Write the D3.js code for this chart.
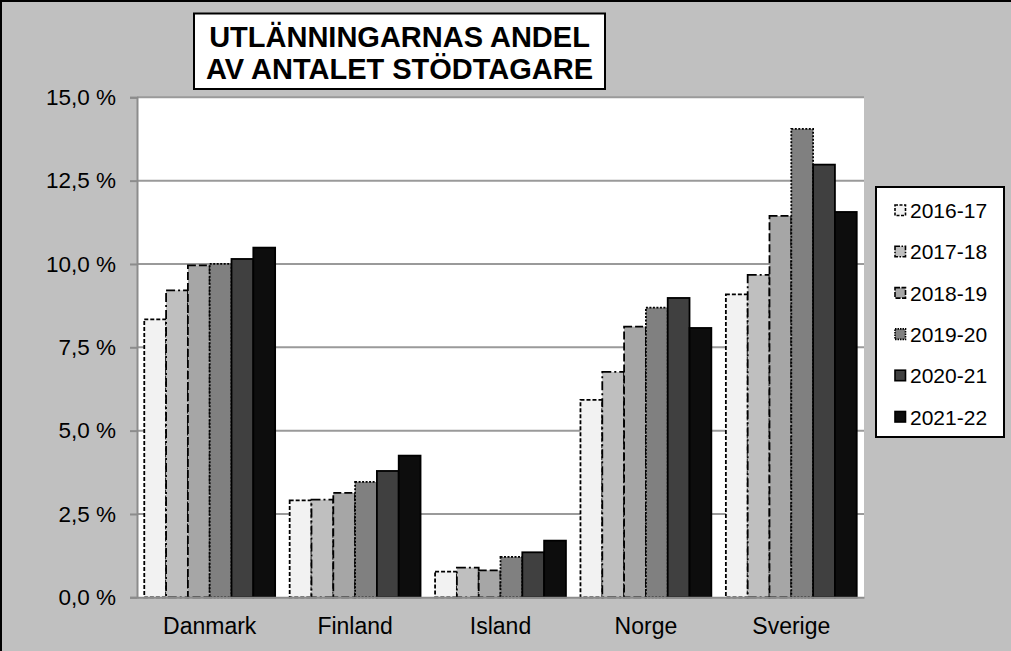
<!DOCTYPE html>
<html>
<head>
<meta charset="utf-8">
<script src="https://cdn.jsdelivr.net/npm/d3@7"></script>
<style>
  html, body { margin: 0; padding: 0; background: #c0c0c0; }
  svg { display: block; font-family: Arial, "Liberation Sans", sans-serif; }
</style>
</head>
<body>
<svg id="chart" width="1011" height="651"></svg>
<script>
const categories = ["Danmark", "Finland", "Island", "Norge", "Sverige"];
const seriesNames = ["2016-17", "2017-18", "2018-19", "2019-20", "2020-21", "2021-22"];
const v2016 = [8.34, 2.91, 0.77, 5.92, 9.09];
const v2017 = [9.21, 2.93, 0.89, 6.76, 9.67];
const v2018 = [9.96, 3.13, 0.81, 8.12, 11.44];
const v2019 = [10.00, 3.46, 1.21, 8.69, 14.05];
const v2020 = [10.15, 3.79, 1.35, 8.98, 12.98];
const v2021 = [10.49, 4.25, 1.70, 8.08, 11.56];
const yTicks = [0, 2.5, 5, 7.5, 10, 12.5, 15];
const titleLines = ["UTLÄNNINGARNAS ANDEL", "AV ANTALET STÖDTAGARE"];

const seriesValues = [v2016, v2017, v2018, v2019, v2020, v2021];
const fills = ["#f2f2f2", "#bfbfbf", "#a6a6a6", "#808080", "#404040", "#0d0d0d"];
const dashes = ["4,2", "9,3,2,3", "8,3", "2,1.5", null, null];

const svg = d3.select("#chart");
const W = 1011, H = 651;
const plot = { left: 137, right: 864, top: 97.3, bottom: 597.3 };

// background + partial frame (top, left)
svg.append("rect").attr("width", W).attr("height", H).attr("fill", "#c0c0c0");
svg.append("line").attr("x1", 0).attr("x2", W).attr("y1", 1).attr("y2", 1).attr("stroke", "#000").attr("stroke-width", 2);
svg.append("line").attr("x1", 1).attr("x2", 1).attr("y1", 0).attr("y2", H).attr("stroke", "#000").attr("stroke-width", 2);

const x0 = d3.scaleBand().domain(categories).range([plot.left, plot.right]).paddingInner(0.1).paddingOuter(0.05);
const x1 = d3.scaleBand().domain(seriesNames).range([0, x0.bandwidth()]);
const y = d3.scaleLinear().domain([0, 15]).range([plot.bottom, plot.top]);

// plot area
svg.append("rect").attr("x", plot.left).attr("y", plot.top)
  .attr("width", plot.right - plot.left).attr("height", plot.bottom - plot.top).attr("fill", "#fff");

// gridlines
svg.append("g").selectAll("line").data(yTicks.filter(d => d > 0)).join("line")
  .attr("x1", plot.left).attr("x2", plot.right)
  .attr("y1", d => y(d)).attr("y2", d => y(d))
  .attr("stroke", "#9a9a9a").attr("stroke-width", 2);

// bars
const groups = svg.append("g").selectAll("g").data(categories).join("g")
  .attr("transform", d => `translate(${x0(d)},0)`);
groups.selectAll("rect").data((c, ci) => seriesNames.map((s, si) => ({ s, si, v: seriesValues[si][ci] })))
  .join("rect")
  .attr("x", d => x1(d.s))
  .attr("y", d => y(d.v))
  .attr("width", x1.bandwidth())
  .attr("height", d => y(0) - y(d.v))
  .attr("fill", d => fills[d.si])
  .attr("stroke", "#000")
  .attr("stroke-width", 1.8)
  .attr("stroke-dasharray", d => dashes[d.si]);

// y axis
const yAxis = d3.axisLeft(y).tickValues(yTicks).tickSize(7).tickPadding(14)
  .tickFormat(d => d3.format(".1f")(d).replace(".", ",") + " %");
const gy = svg.append("g").attr("transform", `translate(${plot.left},0)`).call(yAxis);
gy.select(".domain").attr("stroke", "#8c8c8c").attr("stroke-width", 2);
gy.selectAll(".tick line").attr("stroke", "#8c8c8c").attr("stroke-width", 2);
gy.selectAll("text").attr("font-size", 22.5).attr("fill", "#000").attr("font-family", "Arial, 'Liberation Sans', sans-serif");

// x axis
const xAxis = d3.axisBottom(x0).tickSize(0).tickPadding(20);
const gx = svg.append("g").attr("transform", `translate(0,${plot.bottom})`).call(xAxis);
gx.select(".domain").attr("stroke", "#8c8c8c").attr("stroke-width", 2);
gx.selectAll("text").attr("font-size", 23).attr("fill", "#000").attr("font-family", "Arial, 'Liberation Sans', sans-serif");

// title box
const tb = { x: 194, y: 13.5, w: 411, h: 75.5 };
svg.append("rect").attr("x", tb.x).attr("y", tb.y).attr("width", tb.w).attr("height", tb.h)
  .attr("fill", "#fff").attr("stroke", "#000").attr("stroke-width", 2);
svg.append("g").selectAll("text").data(titleLines).join("text")
  .attr("x", tb.x + tb.w / 2).attr("y", (d, i) => 47 + i * 32)
  .attr("text-anchor", "middle").attr("font-weight", "bold").attr("font-size", 29)
  .attr("fill", "#000").text(d => d);

// legend
const lg = { x: 876, y: 187, w: 128, h: 250 };
svg.append("rect").attr("x", lg.x).attr("y", lg.y).attr("width", lg.w).attr("height", lg.h)
  .attr("fill", "#fff").attr("stroke", "#000").attr("stroke-width", 2);
const ly = d3.scalePoint().domain(seriesNames).range([210.5, 417]);
const items = svg.append("g").selectAll("g").data(seriesNames).join("g")
  .attr("transform", d => `translate(0,${ly(d)})`);
items.append("rect").attr("x", 895).attr("y", -5.5).attr("width", 10.5).attr("height", 10.5)
  .attr("fill", (d, i) => fills[i]).attr("stroke", "#000").attr("stroke-width", 1.6)
  .attr("stroke-dasharray", (d, i) => i === 1 ? "5,1.5,1.5,1.5" : (i === 2 ? "5,1.5" : (i === 3 ? "1.5,1" : (i === 0 ? "3,1.5" : null))));
items.append("text").attr("x", 910).attr("y", 0).attr("dy", "0.36em")
  .attr("font-size", 21).attr("fill", "#000").text(d => d);
</script>
</body>
</html>
